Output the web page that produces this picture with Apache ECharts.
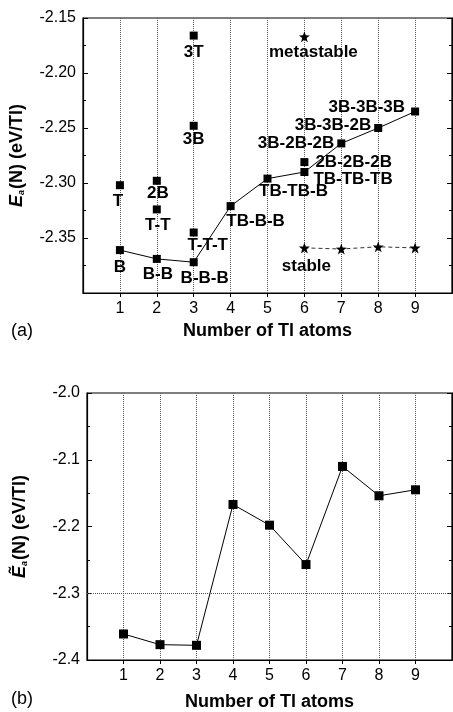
<!DOCTYPE html>
<html>
<head>
<meta charset="utf-8">
<script src="https://cdn.jsdelivr.net/npm/echarts@6/dist/echarts.min.js"></script>
<style>
  html, body { margin: 0; padding: 0; background: #fff; }
  #chart { width: 453px; height: 712px; }
</style>
</head>
<body>
<div id="chart"></div>
<script>
// atom counts on the x axis
const nAtoms = [1, 2, 3, 4, 5, 6, 7, 8, 9]
const xTickValues = [1, 2, 3, 4, 5, 6, 7, 8, 9]

// (a) lowest-energy configurations, joined by the solid line
const bestE = [-2.361, -2.369, -2.372, -2.321, -2.296, -2.290, -2.264, -2.250, -2.235]
const bestNames = ['B', 'B-B', 'B-B-B', 'TB-B-B', 'TB-TB-B', 'TB-TB-TB', '3B-2B-2B', '3B-3B-2B', '3B-3B-3B']

// (a) other configurations (loose squares)
const otherN = [1, 2, 2, 3, 3, 3, 6]
const otherE = [-2.302, -2.298, -2.324, -2.166, -2.248, -2.345, -2.281]
const otherNames = ['T', '2B', 'T-T', '3T', '3B', 'T-T-T', '2B-2B-2B']

// (a) stars
const metaN = [6]
const metaE = [-2.167]
const stableN = [6, 7, 8, 9]
const stableE = [-2.359, -2.360, -2.358, -2.359]

// (b) averaged energy
const avgE = [-2.361, -2.377, -2.378, -2.167, -2.198, -2.257, -2.110, -2.154, -2.145]
const avgRef = -2.302

// label placement: [dx, dy, align] relative to the marker centre
const labelLayout = {
  'B': [0, 17, 'center'],
  'B-B': [1, 15, 'center'],
  'B-B-B': [11, 16, 'center'],
  'TB-B-B': [25, 15, 'center'],
  'TB-TB-B': [26, 13, 'center'],
  'TB-TB-TB': [9, 7, 'left'],
  '3B-2B-2B': [-7, 0, 'right'],
  '3B-3B-2B': [-7, -3, 'right'],
  '3B-3B-3B': [-10, -4, 'right'],
  'T': [-2, 16, 'center'],
  '2B': [1, 13, 'center'],
  'T-T': [1, 16, 'center'],
  '3T': [0, 17, 'center'],
  '3B': [0, 14, 'center'],
  'T-T-T': [14, 13, 'center'],
  '2B-2B-2B': [11, 0, 'left'],
  'metastable': [9, 16, 'center'],
  'stable': [2, 18, 'center']
}

const FONT = '"Liberation Sans", Arial, sans-serif'
const STAR = 'path://M0,-10 L2.35,-3.24 L9.51,-3.09 L3.8,1.24 L5.88,8.09 L0,4 L-5.88,8.09 L-3.8,1.24 L-9.51,-3.09 L-2.35,-3.24 Z'

function withLabel(x, y, text) {
  const l = labelLayout[text]
  return {
    value: [x, y],
    label: {
      show: true,
      formatter: text,
      position: 'inside',
      offset: [l[0], l[1]],
      align: l[2],
      verticalAlign: 'middle',
      color: '#000',
      fontWeight: 'bold',
      fontSize: 17,
      fontFamily: FONT
    }
  }
}

const bestData = nAtoms.map((n, i) => withLabel(n, bestE[i], bestNames[i]))
const otherData = otherN.map((n, i) => withLabel(n, otherE[i], otherNames[i]))
const metaData = metaN.map((n, i) => withLabel(n, metaE[i], 'metastable'))
const stableData = stableN.map((n, i) => (i === 0 ? withLabel(n, stableE[i], 'stable') : [n, stableE[i]]))
const avgData = nAtoms.map((n, i) => [n, avgE[i]])

function xAxisFor(gridIndex, nameGap) {
  return {
    type: 'value', gridIndex, min: 0, max: 10, interval: 1,
    name: 'Number of Tl atoms', nameLocation: 'middle', nameGap,
    nameTextStyle: { fontSize: 18, fontWeight: 'bold', color: '#000', fontFamily: FONT },
    axisLine: { lineStyle: { color: '#000', width: 1.2 } },
    axisTick: { show: true, length: 4, customValues: xTickValues, lineStyle: { color: '#000' } },
    axisLabel: { customValues: xTickValues, margin: 8, fontSize: 16, color: '#000', fontFamily: FONT },
    splitLine: { show: true, lineStyle: { type: 'dotted', color: '#555', width: 1 } }
  }
}

function yAxisFor(gridIndex, min, max, interval, digits, name, nameGap, hideMin) {
  return {
    type: 'value', gridIndex, min, max, interval, position: 'left',
    name, nameLocation: 'middle', nameGap,
    nameTextStyle: {
      color: '#000', fontSize: 18, fontWeight: 'bold', fontFamily: FONT,
      rich: {
        e: { fontSize: 18, fontWeight: 'bold', fontStyle: 'italic', fontFamily: FONT, color: '#000' },
        s: { fontSize: 9, fontStyle: 'italic', fontFamily: FONT, color: '#000', verticalAlign: 'bottom', padding: [0, 1, 0, 0] },
        n: { fontSize: 18, fontWeight: 'bold', fontFamily: FONT, color: '#000' }
      }
    },
    axisLine: { show: true, lineStyle: { color: '#000', width: 1.2 } },
    axisTick: { show: true, inside: true, length: 5, lineStyle: { color: '#000' } },
    minorTick: { show: true, splitNumber: 2, length: 3, lineStyle: { color: '#000' } },
    axisLabel: {
      margin: 7, fontSize: 16, color: '#000', fontFamily: FONT,
      formatter: v => (hideMin && Math.abs(v - min) < 1e-9 ? '' : v.toFixed(digits))
    },
    splitLine: { show: false }
  }
}

function rightAxisFor(gridIndex, min, max, interval) {
  return {
    type: 'value', gridIndex, min, max, interval, position: 'right',
    axisLine: { show: true, lineStyle: { color: '#000', width: 1.2 } },
    axisTick: { show: true, inside: true, length: 5, lineStyle: { color: '#000' } },
    minorTick: { show: true, splitNumber: 2, length: 3, lineStyle: { color: '#000' } },
    axisLabel: { show: false },
    splitLine: { show: false }
  }
}

const chart = echarts.init(document.getElementById('chart'), null, { renderer: 'canvas' })
chart.setOption({
  animation: false,
  backgroundColor: '#fff',
  title: [
    { text: '(a)', left: 6, top: 317, textStyle: { fontSize: 18, fontWeight: 'normal', color: '#000', fontFamily: FONT } },
    { text: '(b)', left: 6, top: 685, textStyle: { fontSize: 18, fontWeight: 'normal', color: '#000', fontFamily: FONT } }
  ],
  grid: [
    { left: 83, right: 1, top: 18, bottom: 419, show: true, borderColor: '#000', borderWidth: 1.2 },
    { left: 87, right: 1, top: 393, bottom: 47, show: true, borderColor: '#000', borderWidth: 1.2 }
  ],
  xAxis: [xAxisFor(0, 29), xAxisFor(1, 33)],
  yAxis: [
    yAxisFor(0, -2.40, -2.15, 0.05, 2, '{e|E}{s|a}{n|(N) (eV/Tl)}', 57, true),
    yAxisFor(1, -2.4, -2.0, 0.1, 1, '{e|Ẽ}{s|a}{n|(N) (eV/Tl)}', 58, false),
    rightAxisFor(0, -2.40, -2.15, 0.05),
    rightAxisFor(1, -2.4, -2.0, 0.1)
  ],
  series: [
    {
      type: 'line', xAxisIndex: 0, yAxisIndex: 0, data: bestData,
      symbol: 'rect', symbolSize: 8, itemStyle: { color: '#000', opacity: 1 },
      lineStyle: { color: '#000', width: 1 }
    },
    {
      type: 'scatter', xAxisIndex: 0, yAxisIndex: 0, data: otherData,
      symbol: 'rect', symbolSize: 8, itemStyle: { color: '#000', opacity: 1 }
    },
    {
      type: 'scatter', xAxisIndex: 0, yAxisIndex: 0, data: metaData,
      symbol: STAR, symbolSize: 11, itemStyle: { color: '#000', opacity: 1 }
    },
    {
      type: 'line', xAxisIndex: 0, yAxisIndex: 0, data: stableData,
      symbol: STAR, symbolSize: 11, itemStyle: { color: '#000', opacity: 1 },
      lineStyle: { color: '#333', width: 1, type: [4, 3] }
    },
    {
      type: 'line', xAxisIndex: 1, yAxisIndex: 1, data: avgData,
      symbol: 'rect', symbolSize: 9, itemStyle: { color: '#000', opacity: 1 },
      lineStyle: { color: '#000', width: 1 },
      markLine: {
        silent: true, symbol: 'none', label: { show: false },
        lineStyle: { type: 'dotted', color: '#555', width: 1 },
        data: [{ yAxis: avgRef }]
      }
    }
  ]
})
</script>
</body>
</html>
